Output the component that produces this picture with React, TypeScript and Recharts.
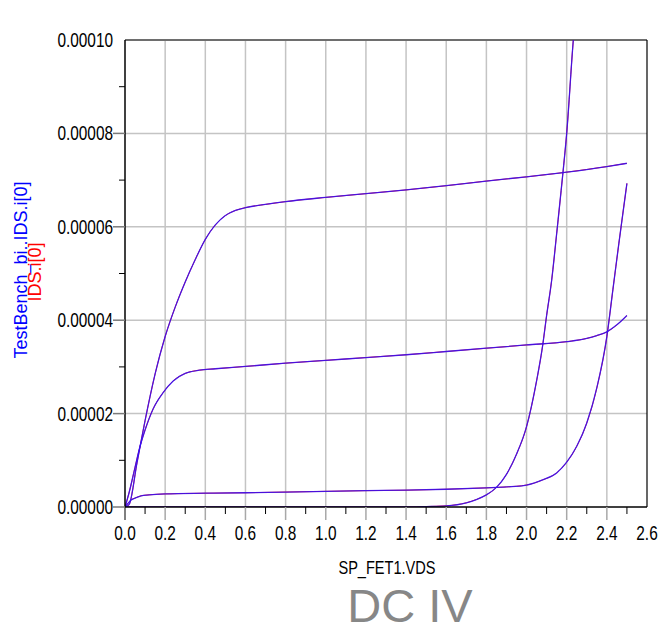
import React from 'react';
import { LineChart, Line, XAxis, YAxis, ReferenceLine } from 'recharts';

// Axis ticks
const xTicks = [0, 0.1, 0.2, 0.3, 0.4, 0.5, 0.6, 0.7, 0.8, 0.9, 1.0, 1.1, 1.2, 1.3, 1.4, 1.5, 1.6, 1.7, 1.8, 1.9, 2.0, 2.1, 2.2, 2.3, 2.4, 2.5, 2.6];
const yTicks = [0, 0.00001, 0.00002, 0.00003, 0.00004, 0.00005, 0.00006, 0.00007, 0.00008, 0.00009, 0.0001];
const xGrid = [0.2, 0.4, 0.6, 0.8, 1.0, 1.2, 1.4, 1.6, 1.8, 2.0, 2.2, 2.4];
const yGrid = [0.00002, 0.00004, 0.00006, 0.00008];

// Curves (VDS in V, IDS in uA)
const vdsA = [0, 0.02, 0.06, 0.1, 0.15, 0.2, 0.25, 0.3, 0.35, 0.4, 0.45, 0.5, 0.55, 0.6, 0.7, 0.8, 1.0, 1.2, 1.4, 1.6, 1.8, 2.0, 2.2, 2.4, 2.5];
const idsA = [0, 0.5, 9.5, 18.5, 28.5, 36.5, 42.8, 48.2, 53, 57.3, 60.4, 62.4, 63.5, 64.1, 64.8, 65.4, 66.3, 67.1, 67.9, 68.8, 69.8, 70.7, 71.7, 72.9, 73.6];

const vdsB = [0, 0.02, 0.05, 0.075, 0.1, 0.14, 0.19, 0.24, 0.3, 0.37, 0.45, 0.6, 0.8, 1.0, 1.2, 1.4, 1.6, 1.8, 2.0, 2.2, 2.3, 2.35, 2.4, 2.45, 2.5];
const idsB = [0, 3, 8.5, 13, 16.5, 21, 24.5, 27, 28.6, 29.3, 29.6, 30.1, 30.8, 31.4, 32, 32.6, 33.3, 34, 34.7, 35.4, 36.1, 36.7, 37.5, 39, 41];

const vdsC = [0, 0.015, 0.03, 0.05, 0.08, 0.12, 0.2, 0.4, 0.6, 0.8, 1.0, 1.2, 1.4, 1.6, 1.8, 1.9, 2.0, 2.08, 2.15, 2.2, 2.25, 2.3, 2.35, 2.4, 2.43, 2.46, 2.5];
const idsC = [0, 0.8, 1.5, 1.9, 2.4, 2.6, 2.8, 2.95, 3.05, 3.2, 3.35, 3.5, 3.6, 3.8, 4.1, 4.3, 4.7, 5.8, 7.3, 9.6, 13, 18, 25.5, 36.5, 46.5, 56.5, 69.3];

const vdsD = [0, 1.4, 1.5, 1.6, 1.7, 1.75, 1.8, 1.85, 1.9, 1.95, 2.0, 2.05, 2.08, 2.1, 2.125, 2.15, 2.18, 2.2, 2.233, 2.25];
const idsD = [0, 0, 0.1, 0.25, 0.9, 1.6, 2.6, 4.2, 7, 11.3, 17.2, 27, 34.5, 41, 48.5, 58.5, 71, 80, 100, 108];

const toData = (vds: number[], ids: number[]) => vds.map((x, i) => ({ x, y: ids[i] * 1e-6 }));
const curves = [toData(vdsA, idsA), toData(vdsB, idsB), toData(vdsC, idsC), toData(vdsD, idsD)];

const FONT = '"Liberation Sans", Arial, sans-serif';
const NARROW = 0.77;

const XTick = (props: any) => {
  const { x, y, payload } = props;
  const v: number = payload.value;
  const idx = Math.round(v * 10);
  const major = idx % 2 === 0;
  const edge = idx === 0;
  return (
    <g>
      {idx !== 26 && (
        <line
          x1={x}
          x2={x}
          y1={y}
          y2={y + (major ? 13 : 7)}
          stroke={major && !edge ? '#a8a8a8' : '#000'}
          strokeWidth={major && !edge ? 1.5 : 1}
        />
      )}
      {major && (
        <text
          transform={`translate(${x},${y + 33}) scale(${NARROW},1)`}
          x={0}
          y={0}
          textAnchor="middle"
          fontFamily={FONT}
          fontSize={20}
          fill="#000"
        >
          {v.toFixed(1)}
        </text>
      )}
    </g>
  );
};

const YTick = (props: any) => {
  const { x, y, payload } = props;
  const v: number = payload.value;
  const idx = Math.round(v * 1e5);
  const major = idx % 2 === 0;
  return (
    <g>
      {idx !== 10 && (
        <line
          x1={major ? x - 12 : x - 6}
          x2={x}
          y1={y}
          y2={y}
          stroke={major ? '#7a7a7a' : '#000'}
          strokeWidth={major ? 1.5 : 1}
        />
      )}
      {major && (
        <text
          transform={`translate(${x - 12},${y + 7}) scale(${NARROW},1)`}
          x={0}
          y={0}
          textAnchor="end"
          fontFamily={FONT}
          fontSize={20}
          fill="#000"
        >
          {v.toFixed(5)}
        </text>
      )}
    </g>
  );
};

const YTitle = () => (
  <g>
    <text
      x={27}
      y={270}
      transform="rotate(-90, 27, 270)"
      textAnchor="middle"
      fontFamily={FONT}
      fontSize={18}
      fill="#0000ff"
    >
      TestBench_bi..IDS.i[0]
    </text>
    <text
      x={41}
      y={272}
      transform="rotate(-90, 41, 272)"
      textAnchor="middle"
      fontFamily={FONT}
      fontSize={18}
      fill="#ff0000"
    >
      IDS.i[0]
    </text>
  </g>
);

const XTitle = () => (
  <g>
    <text
      transform={`translate(387,574) scale(0.81,1)`}
      x={0}
      y={0}
      textAnchor="middle"
      fontFamily={FONT}
      fontSize={18}
      fill="#000"
    >
      SP_FET1.VDS
    </text>
    <text x={410} y={622} textAnchor="middle" fontFamily={FONT} fontSize={47} fill="#878787">
      DC IV
    </text>
  </g>
);

export default function App() {
  return (
    <div style={{ width: 660, height: 631 }}>
      <style>{'html,body{margin:0;padding:0;overflow:hidden;}'}</style>
      <LineChart width={660} height={631} margin={{ top: 40, right: 13, left: 65, bottom: 84 }}>
        <XAxis
          dataKey="x"
          type="number"
          domain={[0, 2.6]}
          ticks={xTicks}
          interval={0}
          allowDataOverflow
          height={40}
          tickSize={0}
          tickMargin={0}
          tickLine={false}
          tick={<XTick />}
          axisLine={{ stroke: '#000', strokeWidth: 1.5 }}
          label={{ content: () => <XTitle /> }}
        />
        <YAxis
          type="number"
          domain={[0, 0.0001]}
          ticks={yTicks}
          interval={0}
          allowDataOverflow
          width={60}
          tickSize={0}
          tickMargin={0}
          tickLine={false}
          tick={<YTick />}
          axisLine={{ stroke: '#000', strokeWidth: 1.5 }}
          label={{ content: () => <YTitle /> }}
        />
        {xGrid.map((v) => (
          <ReferenceLine key={'gx' + v} x={v} stroke="#c4c4c4" strokeWidth={1.5} />
        ))}
        {yGrid.map((v) => (
          <ReferenceLine key={'gy' + v} y={v} stroke="#c4c4c4" strokeWidth={1.5} />
        ))}
        <ReferenceLine y={0.0001} stroke="#6e6e6e" strokeWidth={2} />
        <ReferenceLine x={2.6} stroke="#000" strokeWidth={1.2} />
        {curves.map((d, i) => (
          <Line
            key={'r' + i}
            data={d}
            dataKey="y"
            type="monotone"
            stroke="#ff0000"
            strokeWidth={1.0}
            dot={false}
            isAnimationActive={false}
          />
        ))}
        {curves.map((d, i) => (
          <Line
            key={'b' + i}
            data={d}
            dataKey="y"
            type="monotone"
            stroke="#2a10ff"
            strokeWidth={1.3}
            strokeOpacity={0.85}
            dot={false}
            isAnimationActive={false}
          />
        ))}
      </LineChart>
    </div>
  );
}
